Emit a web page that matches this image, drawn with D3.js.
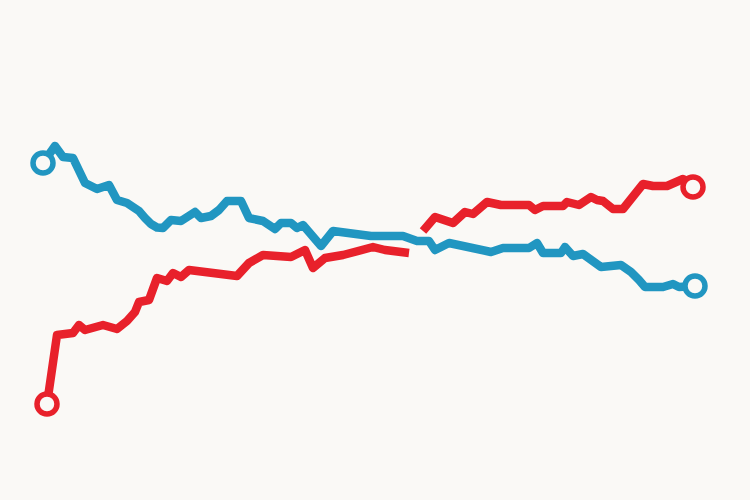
<!DOCTYPE html>
<html><head><meta charset="utf-8">
<script src="https://cdn.jsdelivr.net/npm/d3@7"></script>
<style>html,body{margin:0;padding:0;background:#faf9f6;}svg{display:block;}</style>
</head><body>
<svg id="chart" width="750" height="500"></svg>
<script>
const blueDays = [0,6,10,15,21,27,33,37,42,48,51,54,57,60,64,69,76,79,84,88,92,99,103,110,116,119,124,127,130,139,145,164,180,187,193,196,203,224,230,243,247,250,259,261,265,270,279,289,294,298,301,310,315,318,326];
const blueValues = [67.4,70.8,68.6,68.4,63.4,62.2,63.0,60.0,59.4,57.8,56.4,55.2,54.5,54.4,56.0,55.8,57.6,56.4,56.8,58.0,59.8,59.8,56.4,55.8,54.2,55.4,55.4,54.4,55.0,50.8,53.8,52.8,52.8,51.8,51.8,50.0,51.4,49.6,50.4,50.4,51.4,49.4,49.4,50.6,48.8,49.2,46.6,47.0,45.6,44.0,42.6,42.6,43.2,42.6,42.8];
const redDays = [2,7,15,18,21,30,37,42,46,48,53,57,62,65,69,73,97,103,110,124,131,135,141,150,165,171,183,186,190,196,205,211,215,222,229,243,246,250,260,262,268,274,277,280,285,290,300,305,312,320,322,325];
const redValues = [19.2,33.0,33.4,35.0,34.0,35.0,34.2,35.8,37.6,39.6,40.0,44.4,43.8,45.4,44.6,46.0,44.8,47.4,49.0,48.6,50.0,46.4,48.4,49.0,50.6,50.0,49.4,null,53.8,56.6,55.4,57.6,57.2,59.6,59.0,59.0,58.0,58.8,58.8,59.6,59.0,60.6,60.0,59.8,58.2,58.2,63.2,62.8,62.8,64.2,63.8,62.6];

const BG = "#faf9f6", BLUE = "#2196c1", RED = "#e8212b";
const svg = d3.select("#chart");
svg.append("rect").attr("width",750).attr("height",500).attr("fill",BG);

const x = d3.scaleLinear().domain([0,326]).range([43,695]);
const y = d3.scaleLinear().domain([0,100]).range([500,0]);

const series = [
  {color: BLUE, data: blueDays.map((d,i)=>({d, v: blueValues[i]}))},
  {color: RED, data: redDays.map((d,i)=>({d, v: redValues[i]}))}
];

const line = d3.line().defined(p=>p.v!==null).x(p=>x(p.d)).y(p=>y(p.v));

series.forEach(s=>{
  svg.append("path").datum(s.data)
    .attr("d", line).attr("fill","none").attr("stroke", s.color)
    .attr("stroke-width", 8.5).attr("stroke-linejoin","round").attr("stroke-linecap","butt");
});
series.forEach(s=>{
  const valid = s.data.filter(p=>p.v!==null);
  svg.selectAll(null).data([valid[0], valid[valid.length-1]]).enter().append("circle")
    .attr("cx", p=>x(p.d)).attr("cy", p=>y(p.v)).attr("r", 10)
    .attr("fill", BG).attr("stroke", s.color).attr("stroke-width", 5.5);
});
</script>
</body></html>
